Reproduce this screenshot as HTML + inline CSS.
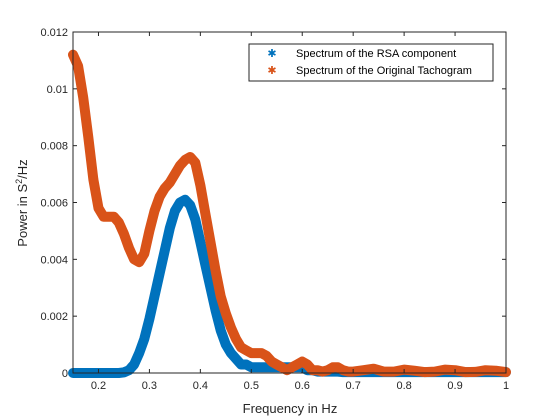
<!DOCTYPE html>
<html><head><meta charset="utf-8"><style>
body{margin:0;background:#fff;}
svg{display:block;font-family:"Liberation Sans",Arial,sans-serif;}
</style></head><body>
<svg id="chart" width="560" height="420" viewBox="0 0 560 420">
<rect width="560" height="420" fill="#fff"/>
<g id="plot"></g>
<g id="axes"></g>
<g>
<rect x="249" y="44" width="244" height="37" fill="#fff" stroke="#262626" stroke-width="1"/>
<text x="272" y="54" fill="#0072BD" font-size="11" text-anchor="middle" dominant-baseline="middle">✱</text>
<text x="296" y="54" font-size="11" fill="#000" dominant-baseline="middle">Spectrum of the RSA component</text>
<text x="272" y="71" fill="#D95319" font-size="11" text-anchor="middle" dominant-baseline="middle">✱</text>
<text x="296" y="71" font-size="11" fill="#000" dominant-baseline="middle">Spectrum of the Original Tachogram</text>
</g>
<text x="290" y="413" font-size="13" fill="#262626" text-anchor="middle">Frequency in Hz</text>
<text transform="translate(27,203) rotate(-90)" font-size="13" fill="#262626" text-anchor="middle">Power in S<tspan baseline-shift="super" font-size="9">2</tspan>/Hz</text>
</svg>
<script>
const freqs=[0.15,0.16,0.17,0.18,0.19,0.20,0.21,0.22,0.23,0.24,0.25,0.26,0.27,0.28,0.29,0.30,0.31,0.32,0.33,0.34,0.35,0.36,0.37,0.38,0.39,0.40,0.41,0.42,0.43,0.44,0.45,0.46,0.47,0.48,0.49,0.50,0.51,0.52,0.53,0.54,0.55,0.56,0.57,0.58,0.59,0.60,0.61,0.62,0.63,0.64,0.65,0.66,0.67,0.68,0.69,0.70,0.72,0.74,0.76,0.78,0.80,0.82,0.84,0.86,0.88,0.90,0.92,0.94,0.96,0.98,1.00];
const originalPower=[0.0112,0.0108,0.0097,0.0083,0.0068,0.0058,0.0055,0.0055,0.0055,0.0053,0.0049,0.0044,0.0040,0.0039,0.0042,0.0050,0.0057,0.0062,0.0065,0.0067,0.0070,0.0073,0.0075,0.0076,0.0074,0.0066,0.0056,0.0046,0.0036,0.0027,0.0021,0.0016,0.0012,0.0009,0.0008,0.0007,0.0007,0.0007,0.0006,0.0004,0.0003,0.0002,0.0001,0.0002,0.0003,0.0004,0.0003,0.0001,0.0001,0.00005,0.0001,0.0002,0.0002,0.0001,0.00005,0.00005,0.0001,0.00015,0.00005,0.00005,0.00012,0.00008,0.00003,0.00005,0.00012,0.0001,0.00003,0.00004,0.0001,0.00008,0.00003];
const rsaPower=[0,0,0,0,0,0,0,0,0,0,0.00002,0.0001,0.0003,0.0007,0.0012,0.0019,0.0027,0.0035,0.0043,0.0051,0.0057,0.0060,0.0061,0.0059,0.0054,0.0046,0.0038,0.0030,0.0022,0.0015,0.0010,0.0007,0.0005,0.0003,0.0003,0.0002,0.0002,0.0002,0.0002,0.0002,0.0002,0.0002,0.0002,0.0002,0.0002,0.0002,0.0001,0.0001,0.00005,0.00005,0.00005,0.00005,0.00005,0.00003,0.00003,0.00003,0.00003,0.00003,0.00003,0.00003,0.00003,0.00003,0.00003,0.00003,0.00003,0.00003,0.00003,0.00003,0.00003,0.00003,0.00003];
const xTicks=[0.2,0.3,0.4,0.5,0.6,0.7,0.8,0.9,1];
const xTickLabels=["0.2","0.3","0.4","0.5","0.6","0.7","0.8","0.9","1"];
const yTicks=[0,0.002,0.004,0.006,0.008,0.01,0.012];
const yTickLabels=["0","0.002","0.004","0.006","0.008","0.01","0.012"];
const X0=73,X1=506,Y0=373,Y1=32,xmin=0.15,xmax=1,ymin=0,ymax=0.012;
const sx=v=>X0+(v-xmin)/(xmax-xmin)*(X1-X0);
const sy=v=>Y0-(v-ymin)/(ymax-ymin)*(Y0-Y1);
const NS="http://www.w3.org/2000/svg";
const plot=document.getElementById('plot'),axes=document.getElementById('axes');
function series(vals,color,name){
  const g=document.createElementNS(NS,'g');
  
  
  const pl=document.createElementNS(NS,'polyline');
  pl.setAttribute('points',freqs.map((f,i)=>sx(f).toFixed(1)+','+sy(vals[i]).toFixed(1)).join(' '));
  pl.setAttribute('fill','none');pl.setAttribute('stroke',color);
  pl.setAttribute('stroke-width','10');pl.setAttribute('stroke-linejoin','round');pl.setAttribute('stroke-linecap','round');
  
  
  g.appendChild(pl);
  plot.appendChild(g);
}
series(rsaPower,'#0072BD','rsa-spectrum-series');
series(originalPower,'#D95319','original-spectrum-series');
const box=document.createElementNS(NS,'rect');
box.setAttribute('x',X0);box.setAttribute('y',Y1);box.setAttribute('width',X1-X0);box.setAttribute('height',Y0-Y1);
box.setAttribute('fill','none');box.setAttribute('stroke','#262626');box.setAttribute('stroke-width','1');


axes.appendChild(box);
function line(x1,y1,x2,y2){const l=document.createElementNS(NS,'line');l.setAttribute('x1',x1);l.setAttribute('y1',y1);l.setAttribute('x2',x2);l.setAttribute('y2',y2);l.setAttribute('stroke','#262626');l.setAttribute('stroke-width','1');


axes.appendChild(l);}
function text(x,y,s,anchor,name){const t=document.createElementNS(NS,'text');t.setAttribute('x',x);t.setAttribute('y',y);t.setAttribute('font-size','11');t.setAttribute('fill','#262626');t.setAttribute('text-anchor',anchor);t.textContent=s;


axes.appendChild(t);}
xTicks.forEach((v,i)=>{const x=sx(v);line(x,Y0,x,Y0-4);line(x,Y1,x,Y1+4);text(x,Y0+16,xTickLabels[i],'middle','x-tick-label');});
yTicks.forEach((v,i)=>{const y=sy(v);line(X0,y,X0+4,y);line(X1,y,X1-4,y);text(X0-5,y+4,yTickLabels[i],'end','y-tick-label');});
</script>
</body></html>
